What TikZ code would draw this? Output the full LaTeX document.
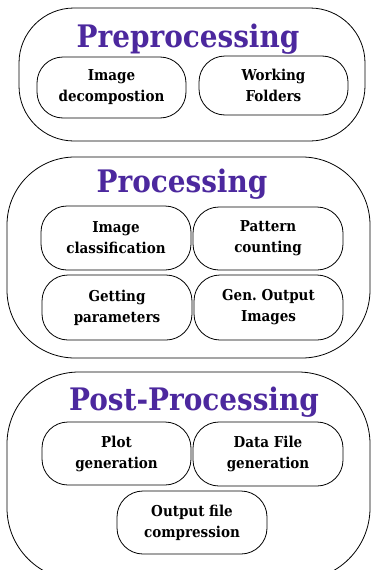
\documentclass[tikz,border=0pt]{standalone}
\usepackage{fontspec}
\setmainfont{DejaVu Serif Condensed}
\definecolor{titlepurple}{RGB}{76,40,158}
\begin{document}
\begin{tikzpicture}[x=1pt,y=-1pt,
  outerbox/.style={draw, line width=0.8pt, inner sep=0pt},
  innerbox/.style={draw, line width=0.8pt, rounded corners=26pt, minimum width=149pt,
    minimum height=62pt, inner sep=0pt, align=center,
    font=\bfseries\fontsize{15}{21}\selectfont},
  titletext/.style={text=titlepurple, anchor=base, inner sep=0pt,
    font=\bfseries\fontsize{31}{40}\selectfont}]
\useasboundingbox (0,0) rectangle (371,570);

% outer boxes
\node[outerbox, rounded corners=55pt, minimum width=346pt, minimum height=133pt] (pre) at (192,74.5) {};
\node[outerbox, rounded corners=68pt, minimum width=363pt, minimum height=201pt] (proc) at (188.5,257.5) {};
\node[outerbox, rounded corners=72pt, minimum width=363pt, minimum height=208pt] (post) at (188.5,476) {};

% titles
\node[titletext] (pretitle) at (188,47) {Preprocessing};
\node[titletext] (proctitle) at (182,192) {Processing};
\node[titletext] (posttitle) at (194,410) {Post-Processing};

% preprocessing
\node[innerbox, minimum height=61pt] (idec) at (111.5,87.5) {Image\\decompostion};
\node[innerbox, minimum height=59pt] (wf) at (273.5,85.5) {Working\\Folders};

% processing
\node[innerbox, minimum width=150pt, minimum height=64pt] (icl) at (116,238) {Image\\classification};
\node[innerbox, minimum width=150pt, minimum height=63pt] (pc) at (268,238.5) {Pattern\\counting};
\node[innerbox, minimum width=150pt, minimum height=65pt] (gp) at (117,307.5) {Getting\\parameters};
\node[innerbox, minimum width=149pt, minimum height=65pt] (goi) at (268.5,307.5) {Gen.\ Output\\Images};

% post-processing
\node[innerbox, minimum width=149pt, minimum height=63pt] (pg) at (116.5,453.5) {Plot\\generation};
\node[innerbox, minimum width=150pt, minimum height=64pt] (dfg) at (268,454) {Data File\\generation};
\node[innerbox, minimum width=150pt, minimum height=63pt] (ofc) at (192,522.5) {Output file\\compression};
\end{tikzpicture}
\end{document}
